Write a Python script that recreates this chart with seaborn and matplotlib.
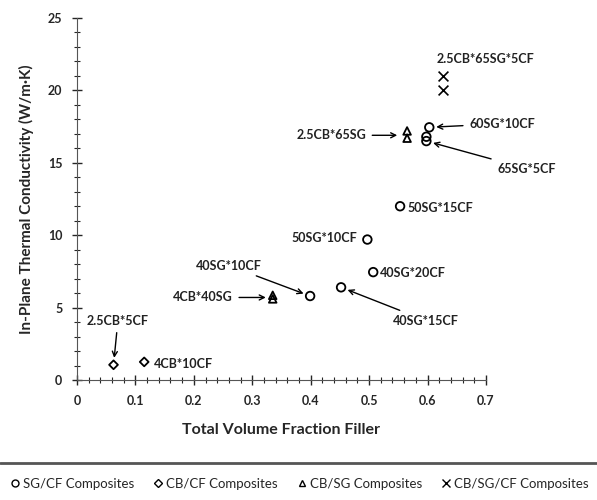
import numpy as np
import pandas as pd
import seaborn as sns
import matplotlib.pyplot as plt
from matplotlib.lines import Line2D
from matplotlib.ticker import MultipleLocator

sns.set_style('ticks')
plt.rcParams['font.family'] = ['Lato', 'DejaVu Sans']

# data
sgcf_x = [0.399, 0.452, 0.507, 0.497, 0.553, 0.603, 0.598, 0.598]
sgcf_y = [5.8, 6.4, 7.45, 9.7, 12.0, 17.45, 16.8, 16.5]
cbcf_x = [0.0625, 0.115]
cbcf_y = [1.05, 1.25]
cbsg_x = [0.335, 0.335, 0.565, 0.565]
cbsg_y = [5.6, 5.85, 16.7, 17.2]
cbsgcf_x = [0.627, 0.627]
cbsgcf_y = [20.0, 21.0]

groups = ['SG/CF Composites', 'CB/CF Composites', 'CB/SG Composites', 'CB/SG/CF Composites']
markers = ['o', 'D', '^', 'x']

df = pd.concat([
    pd.DataFrame({'x': sgcf_x, 'y': sgcf_y, 'group': groups[0]}),
    pd.DataFrame({'x': cbcf_x, 'y': cbcf_y, 'group': groups[1]}),
    pd.DataFrame({'x': cbsg_x, 'y': cbsg_y, 'group': groups[2]}),
    pd.DataFrame({'x': cbsgcf_x, 'y': cbsgcf_y, 'group': groups[3]}),
])

fig = plt.figure(figsize=(5.97, 5.0), dpi=100)
ax = fig.add_axes([0.129, 0.24, 0.685, 0.724])

sizes = {'o': 38, 'D': 20, '^': 30, 'x': 50}
for g, m in zip(groups, markers):
    d = df[df.group == g]
    if m == 'x':
        sns.scatterplot(x='x', y='y', data=d, marker=m, color='black', s=sizes[m], linewidth=1.2, ax=ax)
    else:
        sns.scatterplot(x='x', y='y', data=d, marker=m, facecolor='none', edgecolor='black',
                        s=sizes[m], linewidth=1.3, ax=ax)

ax.set_xlim(0, 0.7)
ax.set_ylim(0, 25)
ax.xaxis.set_major_locator(MultipleLocator(0.1))
ax.xaxis.set_minor_locator(MultipleLocator(0.02))
ax.yaxis.set_major_locator(MultipleLocator(5))
ax.yaxis.set_minor_locator(MultipleLocator(1))
ax.set_xticks(np.arange(0, 0.71, 0.1))
ax.set_xticklabels(['0', '0.1', '0.2', '0.3', '0.4', '0.5', '0.6', '0.7'])
ax.tick_params(which='major', direction='inout', length=7, width=1, labelsize=9, pad=7)
ax.tick_params(which='minor', direction='inout', length=4, width=0.8)
for lab in ax.get_xticklabels() + ax.get_yticklabels():
    lab.set_fontweight('bold')
sns.despine(ax=ax)
ax.spines['left'].set_color('#555555')
ax.spines['bottom'].set_color('#555555')

ax.set_xlabel('Total Volume Fraction Filler', fontsize=11.5, fontweight='bold', labelpad=12)
ax.set_ylabel('In-Plane Thermal Conductivity (W/m\u00b7K)', fontsize=11, fontweight='bold', labelpad=10)

# point labels with arrows
ann_kw = dict(fontsize=9, fontweight='bold', color='#222222')
arrow = dict(arrowstyle='->', color='black', lw=1.0, shrinkA=2, shrinkB=5)
ax.text(0.699, 22.2, '2.5CB*65SG*5CF', ha='center', va='center', **ann_kw)
ax.annotate('60SG*10CF', xy=(0.603, 17.45), xytext=(0.671, 17.7), ha='left', va='center',
            arrowprops=arrow, **ann_kw)
ax.annotate('2.5CB*65SG', xy=(0.560, 16.9), xytext=(0.495, 16.9), ha='right', va='center',
            arrowprops=arrow, **ann_kw)
ax.annotate('65SG*5CF', xy=(0.598, 16.5), xytext=(0.719, 14.6), ha='left', va='center',
            arrowprops=arrow, **ann_kw)
ax.text(0.566, 11.9, '50SG*15CF', ha='left', va='center', **ann_kw)
ax.text(0.480, 9.8, '50SG*10CF', ha='right', va='center', **ann_kw)
ax.text(0.519, 7.4, '40SG*20CF', ha='left', va='center', **ann_kw)
ax.annotate('40SG*15CF', xy=(0.452, 6.4), xytext=(0.541, 4.1), ha='left', va='center',
            arrowprops=arrow, **ann_kw)
ax.annotate('40SG*10CF', xy=(0.399, 5.8), xytext=(0.26, 7.9), ha='center', va='center',
            arrowprops=arrow, **ann_kw)
ax.annotate('4CB*40SG', xy=(0.335, 5.7), xytext=(0.267, 5.7), ha='right', va='center',
            arrowprops=arrow, **ann_kw)
ax.annotate('2.5CB*5CF', xy=(0.0625, 1.05), xytext=(0.07, 4.1), ha='center', va='center',
            arrowprops=arrow, **ann_kw)
ax.text(0.132, 1.1, '4CB*10CF', ha='left', va='center', **ann_kw)

# legend below with a rule above it
fig.add_artist(Line2D([0, 1], [0.074, 0.074], transform=fig.transFigure, color='#555555', lw=2))
handles = []
for g, m in zip(groups, markers):
    if m == 'x':
        handles.append(Line2D([], [], marker=m, ls='', color='black', markersize=6, label=g))
    else:
        handles.append(Line2D([], [], marker=m, ls='', markerfacecolor='none', markeredgecolor='black',
                              markersize=5 if m != 'D' else 4, label=g))
fig.legend(handles=handles, loc='center', bbox_to_anchor=(0.5, 0.032), ncol=4, frameon=False,
           fontsize=9.5, handletextpad=0.1, columnspacing=1.3, handlelength=1.0)

fig.savefig('out.png', dpi=100)
